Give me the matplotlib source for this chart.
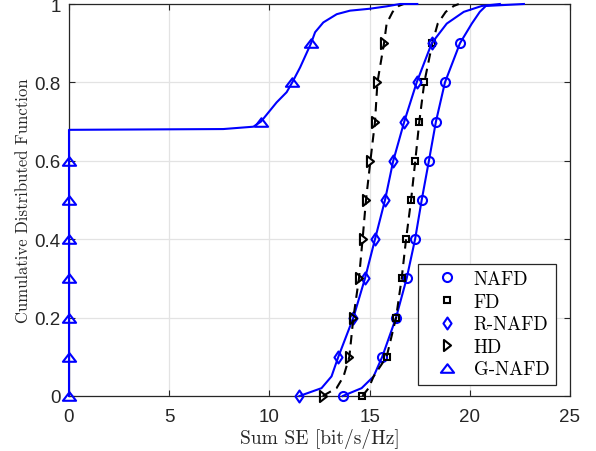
import numpy as np
import matplotlib
matplotlib.use("Agg")
import matplotlib.pyplot as plt
from matplotlib.lines import Line2D
from matplotlib.path import Path

# CDF levels and the matching Sum SE values [bit/s/Hz] for each scheme
levels_std = [0.0, 0.02, 0.05, 0.1, 0.2, 0.3, 0.4, 0.5, 0.6, 0.7, 0.8, 0.9, 0.95, 0.98, 0.995, 1.0]

nafd_se = [13.66, 14.6, 15.2, 15.63, 16.32, 16.85, 17.27, 17.60, 17.96, 18.31, 18.76, 19.51, 20.1, 20.5, 20.8, 22.7]
fd_se = [14.64, 14.95, 15.2, 15.85, 16.32, 16.6, 16.82, 17.07, 17.28, 17.48, 17.73, 18.13, 18.4, 18.8, 19.2, 19.45]
rnafd_se = [11.5, 12.6, 13.1, 13.44, 14.19, 14.77, 15.27, 15.77, 16.18, 16.73, 17.35, 18.1, 18.85, 19.7, 20.6, 21.5]
hd_se = [12.66, 13.35, 13.7, 13.99, 14.19, 14.47, 14.65, 14.82, 15.04, 15.27, 15.39, 15.72, 15.85, 16.15, 16.45, 16.7]

gnafd_levels = [0.0, 0.1, 0.2, 0.3, 0.4, 0.5, 0.6, 0.679, 0.681, 0.687, 0.7, 0.749, 0.775, 0.8,
                0.838, 0.9, 0.928, 0.953, 0.974, 0.983, 0.988, 0.994, 1.0, 1.0]
gnafd_se = [0.0, 0.0, 0.0, 0.0, 0.0, 0.0, 0.0, 0.0, 7.7, 9.2, 9.58, 10.36, 10.86, 11.14,
            11.53, 12.08, 12.28, 12.69, 13.36, 14.02, 15.02, 15.85, 16.52, 17.38]

marker_levels = [0.0, 0.1, 0.2, 0.3, 0.4, 0.5, 0.6, 0.7, 0.8, 0.9]

names = ["NAFD", "FD", "R-NAFD", "HD", "G-NAFD"]

BLUE = (0, 0, 1)
BLACK = (0, 0, 0)

# MATLAB-like marker shapes (wide triangles, tall diamond)
_closed = [Path.MOVETO, Path.LINETO, Path.LINETO, Path.CLOSEPOLY]
tri_up = Path([(0, 0.65), (-1, -0.65), (1, -0.65), (0, 0.65)], _closed)
tri_right = Path([(0.64, 0), (-0.64, 1), (-0.64, -1), (0.64, 0)], _closed)
diamond = Path([(0, 1), (0.68, 0), (0, -1), (-0.68, 0), (0, 1)],
               [Path.MOVETO, Path.LINETO, Path.LINETO, Path.LINETO, Path.CLOSEPOLY])

series = [
    (nafd_se, levels_std, BLUE, "-", "o", 6.5),
    (fd_se, levels_std, BLACK, "--", "s", 4.6),
    (rnafd_se, levels_std, BLUE, "-", diamond, 8.6),
    (hd_se, levels_std, BLACK, "--", tri_right, 8.0),
    (gnafd_se, gnafd_levels, BLUE, "-", tri_up, 9.5),
]


def marker_indices(levels):
    lv = np.asarray(levels)
    idx = []
    for m in marker_levels:
        hits = np.where(np.isclose(lv, m))[0]
        if len(hits):
            idx.append(int(hits[0]))
    return idx


plt.rcParams["font.family"] = ["Liberation Sans", "DejaVu Sans"]

fig = plt.figure(figsize=(5.96, 4.52), dpi=100)
ax = fig.add_axes([69 / 596, 55 / 452, 501 / 596, 392 / 452])

handles = []
for (se, lv, col, ls, mk, ms), name in zip(series, names):
    line, = ax.plot(se, lv, color=col, linestyle=ls, linewidth=1.5,
                    marker=mk, markersize=ms, markeredgewidth=1.5,
                    markerfacecolor="none", markevery=marker_indices(lv),
                    zorder=3, clip_on=False)
    if ls == "--":
        line.set_dashes((4.5, 3.0))
    handles.append(Line2D([], [], color=col, linestyle="none", marker=mk,
                          markersize=ms, markeredgewidth=1.5,
                          markerfacecolor="none"))

ax.set_xlim(0, 25)
ax.set_ylim(0, 1)
ax.set_xticks([0, 5, 10, 15, 20, 25])
ax.set_yticks([0, 0.2, 0.4, 0.6, 0.8, 1])
ax.set_yticklabels(["0", "0.2", "0.4", "0.6", "0.8", "1"])

ax.grid(True, color="#e3e3e3", linewidth=0.9, zorder=0)
ax.set_axisbelow(True)

axis_col = (0.15, 0.15, 0.15)
for sp in ax.spines.values():
    sp.set_color(axis_col)
    sp.set_linewidth(0.9)
ax.tick_params(direction="in", length=4, width=0.8, colors=axis_col,
               labelsize=13.5, top=True, right=True)
ax.tick_params(axis="x", pad=8.5)
ax.tick_params(axis="y", pad=6)

ax.set_xlabel("Sum SE [bit/s/Hz]", fontfamily="cmr10", fontsize=14,
              color=axis_col, labelpad=2)
ax.set_ylabel("Cumulative Distributed Function", fontfamily="cmr10",
              fontsize=12, color=axis_col, labelpad=2.5)

leg = ax.legend(handles, names, loc="lower right", bbox_to_anchor=(0.972, 0.028),
                borderaxespad=0, prop={"family": "cmr10", "size": 13.5},
                fancybox=False, framealpha=1, edgecolor=axis_col,
                handlelength=2.3, handletextpad=0.3, labelspacing=0.25,
                borderpad=0.35)
leg.get_frame().set_linewidth(0.9)

fig.savefig("out.png", dpi=100)
